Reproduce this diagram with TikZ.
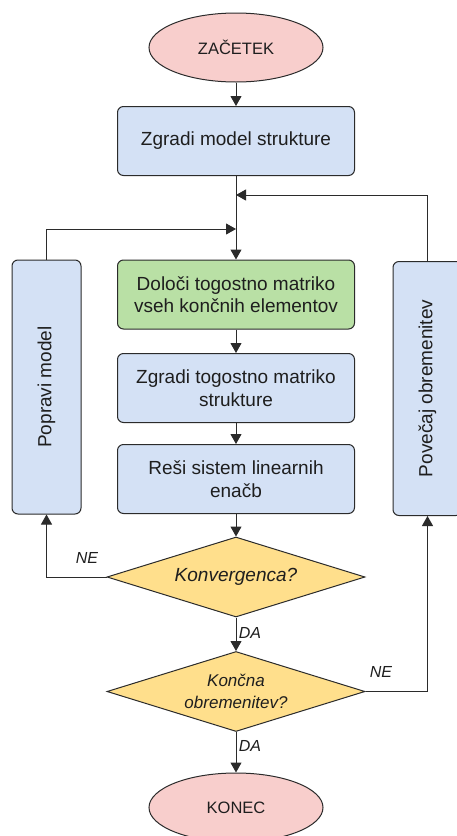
\documentclass[tikz,border=0pt]{standalone}
\usepackage{fontspec}
\setmainfont{Liberation Sans}
\usetikzlibrary{shapes.geometric,arrows.meta}

\definecolor{termfill}{HTML}{F8CECC}
\definecolor{procfill}{HTML}{D4E1F5}
\definecolor{elemfill}{HTML}{B9E0A5}
\definecolor{decfill}{HTML}{FFDF8C}
\definecolor{edgecol}{HTML}{2B2B2B}
\definecolor{textcol}{HTML}{1E1E1E}

\begin{document}
\begin{tikzpicture}[x=1pt,y=-1pt,
  base/.style={draw=edgecol, line width=1pt, text=textcol, inner sep=0pt, align=center},
  terminal/.style={base, ellipse, fill=termfill, minimum width=174pt, minimum height=69pt,
    font=\fontsize{16.5}{19}\selectfont},
  process/.style={base, rectangle, rounded corners=6pt, fill=procfill,
    minimum width=237pt, minimum height=69pt, font=\fontsize{19}{22.5}\selectfont},
  sidebox/.style={base, rectangle, rounded corners=6pt, fill=procfill, rotate=90,
    minimum width=254pt, minimum height=69pt, font=\fontsize{19}{22.5}\selectfont},
  decision/.style={base, diamond, aspect=3.2, fill=decfill,
    minimum width=258pt, minimum height=80pt},
  flow/.style={draw=edgecol, line width=1pt, -{Triangle[width=11pt,length=10pt]}},
  answer/.style={text=textcol, font=\fontsize{16}{19}\selectfont\itshape, inner sep=0pt}
]
\useasboundingbox (0,0) rectangle (456,836);
\fill[white] (0,0) rectangle (456,836);

% main column
\node[terminal] (start) at (236,47.5) {ZAČETEK};
\node[process] (build) at (236,141) {Zgradi model strukture};
\node[process, fill=elemfill] (elem) at (236,294.5) {Določi togostno matriko\\vseh končnih elementov};
\node[process] (glob) at (236,388) {Zgradi togostno matriko\\strukture};
\node[process] (solve) at (236,479) {Reši sistem linearnih\\enačb};
\node[decision, font=\fontsize{19}{22.5}\selectfont\itshape] (conv) at (236,577) {Konvergenca?};
\node[decision, font=\fontsize{17}{22}\selectfont\itshape] (final) at (236,691.5) {Končna\\obremenitev?};
\node[terminal] (finish) at (236,807.5) {KONEC};

% side boxes (rotated: east anchor is the top edge, west the bottom edge)
\node[sidebox] (fix) at (46.5,387) {Popravi model};
\node[sidebox] (inc) at (427.5,388.5) {Povečaj obremenitev};

% junctions on the main column
\coordinate (mergeR) at (236,195);
\coordinate (mergeL) at (236,229);

% connectors
\draw[flow] (start) -- (build);
\draw[flow] (build) -- (elem);
\draw[flow] (inc.east) |- (mergeR);
\draw[flow] (fix.east) |- (mergeL);
\draw[flow] (elem) -- (glob);
\draw[flow] (glob) -- (solve);
\draw[flow] (solve) -- (conv);
\draw[flow] (conv.west) -| (fix.west);
\draw[flow] (conv.south) -- (final.north);
\draw[flow] (final.east) -| (inc.west);
\draw[flow] (final.south) -- (finish.north);

% branch labels
\node[answer] (neL) at (87,558) {NE};
\node[answer] (daA) at (250,633) {DA};
\node[answer] (neR) at (381,672) {NE};
\node[answer] (daB) at (250,746) {DA};
\end{tikzpicture}
\end{document}
